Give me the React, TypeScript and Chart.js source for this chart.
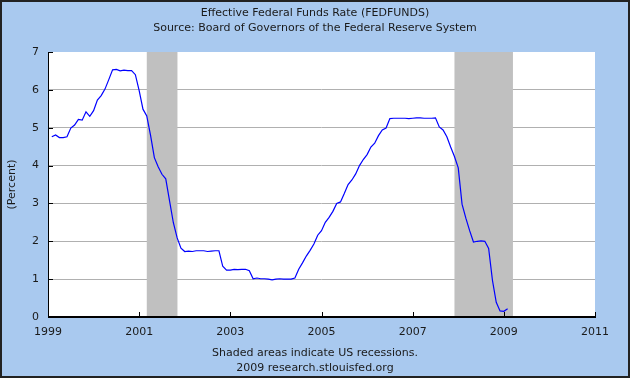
import { useEffect, useRef } from 'react';
import { Chart, registerables } from 'chart.js';

Chart.register(...registerables);

// Monthly effective federal funds rate (percent), series starts Feb 1999
const startYear = 1999;
const startMonth = 1; // 0 = Jan, so 1 = Feb
const r1999 = [4.76, 4.81, 4.74, 4.74, 4.76, 4.99, 5.07, 5.22, 5.2, 5.42, 5.3];
const r2000 = [5.45, 5.73, 5.85, 6.02, 6.27, 6.53, 6.54, 6.5, 6.52, 6.51, 6.51, 6.4];
const r2001 = [5.98, 5.49, 5.31, 4.8, 4.21, 3.97, 3.77, 3.65, 3.07, 2.49, 2.09, 1.82];
const r2002 = [1.73, 1.74, 1.73, 1.75, 1.75, 1.75, 1.73, 1.74, 1.75, 1.75, 1.34, 1.24];
const r2003 = [1.24, 1.26, 1.25, 1.26, 1.26, 1.22, 1.01, 1.03, 1.01, 1.01, 1.0, 0.98];
const r2004 = [1.0, 1.01, 1.0, 1.0, 1.0, 1.03, 1.26, 1.43, 1.61, 1.76, 1.93, 2.16];
const r2005 = [2.28, 2.5, 2.63, 2.79, 3.0, 3.04, 3.26, 3.5, 3.62, 3.78, 4.0, 4.16];
const r2006 = [4.29, 4.49, 4.59, 4.79, 4.94, 4.99, 5.24, 5.25, 5.25, 5.25, 5.25, 5.24];
const r2007 = [5.25, 5.26, 5.26, 5.25, 5.25, 5.25, 5.26, 5.02, 4.94, 4.76, 4.49, 4.24];
const r2008 = [3.94, 2.98, 2.61, 2.28, 1.98, 2.0, 2.01, 2.0, 1.81, 0.97, 0.39, 0.16];
const r2009 = [0.15, 0.22];

// Recession periods (decimal years)
const recessionStarts = [2001.167, 2007.917];
const recessionEnds = [2001.84, 2009.2];

// Axis ticks
const xMin = 1999;
const xMax = 2011;
const xStep = 2;
const yMin = 0;
const yMax = 7;
const yStep = 1;

const titleText = 'Effective Federal Funds Rate (FEDFUNDS)';
const subtitleText = 'Source: Board of Governors of the Federal Reserve System';
const yTitleText = '(Percent)';
const footer1 = 'Shaded areas indicate US recessions.';
const footer2 = '2009 research.stlouisfed.org';

const FONT = '"DejaVu Sans", Verdana, sans-serif';
const BG = '#a9c9ef';
const TEXT = '#1a1a1a';

export default function App() {
  const ref = useRef<HTMLCanvasElement | null>(null);

  useEffect(() => {
    document.body.style.margin = '0';
    const canvas = ref.current;
    if (!canvas) return;

    const allRates = [
      ...r1999, ...r2000, ...r2001, ...r2002, ...r2003, ...r2004,
      ...r2005, ...r2006, ...r2007, ...r2008, ...r2009,
    ];
    const points = allRates.map((v, i) => ({ x: startYear + (startMonth + i) / 12, y: v }));

    const decorPlugin = {
      id: 'decor',
      beforeDraw(chart: any) {
        const { ctx, chartArea, width, height } = chart;
        ctx.save();
        ctx.fillStyle = BG;
        ctx.fillRect(0, 0, width, height);
        ctx.fillStyle = '#ffffff';
        ctx.fillRect(chartArea.left, chartArea.top, chartArea.right - chartArea.left, chartArea.bottom - chartArea.top);
        ctx.restore();
      },
      beforeDatasetsDraw(chart: any) {
        const { ctx, chartArea } = chart;
        const xs = chart.scales.x;
        ctx.save();
        ctx.fillStyle = '#c0c0c0';
        recessionStarts.forEach((s, i) => {
          const a = xs.getPixelForValue(s);
          const b = xs.getPixelForValue(recessionEnds[i]);
          ctx.fillRect(a, chartArea.top, b - a, chartArea.bottom - chartArea.top);
        });
        ctx.restore();
      },
      afterDraw(chart: any) {
        const { ctx, chartArea, width, height } = chart;
        const xs = chart.scales.x;
        const ys = chart.scales.y;
        ctx.save();
        // axes lines
        ctx.strokeStyle = '#000';
        ctx.lineWidth = 1;
        ctx.beginPath();
        ctx.moveTo(chartArea.left + 0.5, chartArea.top);
        ctx.lineTo(chartArea.left + 0.5, chartArea.bottom);
        ctx.stroke();
        ctx.lineWidth = 2;
        ctx.beginPath();
        ctx.moveTo(chartArea.left, chartArea.bottom);
        ctx.lineTo(chartArea.right + 1, chartArea.bottom);
        ctx.stroke();
        // inner tick marks
        ctx.lineWidth = 1;
        ctx.beginPath();
        xs.ticks.forEach((t: any) => {
          const px = Math.round(xs.getPixelForValue(t.value)) + 0.5;
          ctx.moveTo(px, chartArea.bottom);
          ctx.lineTo(px, chartArea.bottom - 5);
        });
        ys.ticks.forEach((t: any) => {
          const py = Math.round(ys.getPixelForValue(t.value)) + 0.5;
          ctx.moveTo(chartArea.left, py);
          ctx.lineTo(chartArea.left + 5, py);
        });
        ctx.stroke();
        // texts
        ctx.fillStyle = TEXT;
        ctx.font = '11px ' + FONT;
        ctx.textAlign = 'center';
        ctx.textBaseline = 'middle';
        ctx.fillText(titleText, width / 2, 13);
        ctx.fillText(subtitleText, width / 2, 28);
        ctx.fillText(footer1, width / 2, 353);
        ctx.fillText(footer2, width / 2, 368);
        ctx.save();
        ctx.translate(12, (chartArea.top + chartArea.bottom) / 2);
        ctx.rotate(-Math.PI / 2);
        ctx.fillText(yTitleText, 0, 0);
        ctx.restore();
        // outer border
        ctx.strokeStyle = '#222';
        ctx.lineWidth = 2;
        ctx.strokeRect(1, 1, width - 2, height - 2);
        ctx.restore();
      },
    };

    const chart = new Chart(canvas, {
      type: 'line',
      data: {
        datasets: [
          {
            data: points,
            borderColor: '#0000ff',
            borderWidth: 1.2,
            pointRadius: 0,
            tension: 0,
            fill: false,
          },
        ],
      },
      options: {
        responsive: false,
        animation: false,
        devicePixelRatio: 1,
        layout: { padding: { top: 52, right: 35, left: 0, bottom: 0 } },
        plugins: {
          legend: { display: false },
          title: { display: false },
          tooltip: { enabled: false },
        },
        scales: {
          x: {
            type: 'linear',
            min: xMin,
            max: xMax,
            afterFit(scale: any) {
              scale.height = 61;
            },
            ticks: {
              stepSize: xStep,
              padding: 9,
              maxRotation: 0,
              autoSkip: false,
              color: TEXT,
              font: { family: FONT, size: 11 },
              callback: (v: any) => String(v),
            },
            grid: { display: false, drawTicks: false },
            border: { display: false },
          },
          y: {
            min: yMin,
            max: yMax,
            afterFit(scale: any) {
              scale.width = 48;
            },
            ticks: {
              stepSize: yStep,
              padding: 9,
              color: TEXT,
              font: { family: FONT, size: 11 },
            },
            grid: {
              drawTicks: false,
              lineWidth: 1,
              color: (c: any) =>
                c.tick && (c.tick.value === yMin || c.tick.value === yMax) ? 'rgba(0,0,0,0)' : '#b0b0b0',
            },
            border: { display: false },
          },
        },
      },
      plugins: [decorPlugin],
    });

    return () => chart.destroy();
  }, []);

  return <canvas ref={ref} width={630} height={378} style={{ display: 'block', width: 630, height: 378 }} />;
}
